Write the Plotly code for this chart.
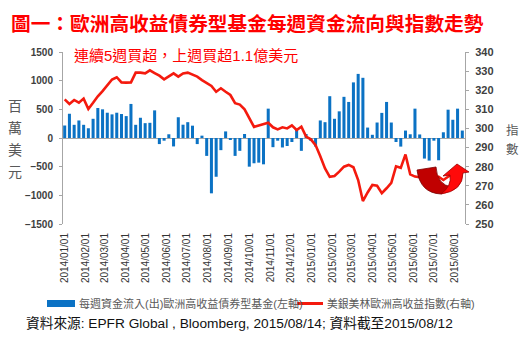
import plotly.graph_objects as go
import pandas as pd

# ---------------- data ----------------
dates = pd.date_range("2014-01-01", "2015-08-12", freq="7D")

flows = [218, 423, 230, 306, 230, 170, 335, 523, 500, 441,
         412, 441, 418, 382, 594, 230, 353, 259, 265, 482,
         -106, -47, 65, -147, 362, 232, 276, 215, -106, 41,
         -312, -965, -676, -212, 115, -30, -312, -224, 70, -500,
         -441, -430, -459, 512, -160, -47, -165, -140, -70, 145,
         -224, 70, -50, -150, 306, 276, 729, 335, 465, 718,
         629, 970, 1118, 1050, 182, 56, 270, 438, 629, 270,
         -70, -150, 130, 65, 512, 62, -359, -394, -47, -388,
         100, 494, 318, 512, 130]

index_vals = [315.2, 312.8, 314.9, 313.5, 315.6, 310.2, 313.4, 316.8, 319.5, 322.4,
              325.6, 326.8, 324.1, 324.0, 324.1, 329.2, 329.2, 328.8, 330.4, 329.0,
              327.6, 325.7, 327.1, 328.8, 327.1, 328.8, 329.2, 328.0, 327.1, 325.3,
              323.6, 322.2, 319.2, 321.0, 319.2, 317.5, 313.2, 312.5, 310.0, 305.0,
              300.8, 301.5, 302.3, 303.0, 300.6, 299.5, 300.6, 300.0, 301.6, 299.2,
              300.9, 295.7, 294.3, 291.3, 285.5, 279.1, 274.7, 275.1, 277.4, 280.0,
              280.9, 279.7, 273.0, 262.0, 266.5, 270.4, 270.0, 266.1, 268.7, 271.5,
              280.2, 279.4, 286.4, 276.0, 274.8, 274.5, 273.5, 272.5, 273.5, 274.7,
              273.0, 275.0, 276.5, 277.5, 278.5]

title_text = "圖一：歐洲高收益債券型基金每週資金流向與指數走勢"
subtitle_text = "連續5週買超，上週買超1.1億美元"
legend_bar = "每週資金流入(出)歐洲高收益債券型基金(左軸)"
legend_line = "美銀美林歐洲高收益指數(右軸)"
source_text = "資料來源: EPFR Global , Bloomberg, 2015/08/14; 資料截至2015/08/12"
left_title = ["百", "萬", "美", "元"]
right_title = ["指", "數"]

# ---------------- geometry helpers ----------------
W, H = 527, 337
L, R, T, B = 63, 465, 52, 224


def px(x):
    return (x - L) / (R - L)


def py(y):
    return (B - y) / (B - T)


def path(cmds):
    out = []
    for c in cmds:
        if isinstance(c, str):
            out.append(c)
        else:
            out.append(f"{px(c[0]):.4f},{py(c[1]):.4f}")
    return " ".join(out)


FONT = "Liberation Sans, Arial, Noto Sans CJK TC, sans-serif"
CJK = "Noto Sans CJK TC, sans-serif"
BLUE = "#0B72C4"
RED = "#F41A0E"
AXC = "#A6A6A6"

fig = go.Figure()
fig.add_trace(go.Bar(x=dates, y=flows, marker_color=BLUE, marker_line_width=0,
                     name=legend_bar, yaxis="y", showlegend=False))
fig.add_trace(go.Scatter(x=dates, y=index_vals, mode="lines",
                         line=dict(color=RED, width=2.6), name=legend_line,
                         yaxis="y2", showlegend=False))

fig.update_layout(
    width=W, height=H,
    margin=dict(l=L, r=W - R, t=T, b=H - B),
    paper_bgcolor="white", plot_bgcolor="white",
    bargap=0.36,
    font=dict(family=FONT, color="#404040"),
    xaxis=dict(type="date", range=["2013-12-29 12:00", "2015-08-16"],
               tickformat="%Y/%m/%d", dtick="M1", tick0="2014-01-01",
               tickangle=-90, tickfont=dict(size=10, color="#333333", family=FONT),
               showgrid=False, showline=False, zeroline=False, ticks="",
               ticklabelstandoff=6),
    yaxis=dict(range=[-1500, 1500], dtick=500, showgrid=False,
               showline=True, linecolor=AXC, linewidth=1,
               ticks="outside", ticklen=3, tickcolor=AXC,
               tickfont=dict(size=10, color="#404040", family=FONT, weight="bold"),
               zeroline=True, zerolinecolor=AXC, zerolinewidth=1,
               ticklabelstandoff=4),
    yaxis2=dict(range=[250, 340], dtick=10, overlaying="y", side="right",
                showgrid=False, showline=True, linecolor=AXC, linewidth=1,
                ticks="outside", ticklen=3, tickcolor=AXC,
                tickfont=dict(size=11, color="#404040", family=FONT, weight="bold"),
                zeroline=False, ticklabelstandoff=4),
)

ann = []
ann.append(dict(x=px(9), y=py(23), xref="paper", yref="paper", text=title_text,
                showarrow=False, xanchor="left", yanchor="middle",
                font=dict(family=CJK, size=19.7, color="#FF0000", weight="bold")))
ann.append(dict(x=px(72), y=py(55), xref="paper", yref="paper", text=subtitle_text,
                showarrow=False, xanchor="left", yanchor="middle",
                font=dict(family=FONT, size=15, color="#FF0000")))
for i, ch in enumerate(left_title):
    ann.append(dict(x=px(15), y=py(105 + i * 22), xref="paper", yref="paper", text=ch,
                    showarrow=False, xanchor="center", yanchor="middle",
                    font=dict(family=CJK, size=14, color="#595959")))
for i, ch in enumerate(right_title):
    ann.append(dict(x=px(512), y=py(129.5 + i * 19), xref="paper", yref="paper", text=ch,
                    showarrow=False, xanchor="center", yanchor="middle",
                    font=dict(family=CJK, size=12.5, color="#595959")))
ann.append(dict(x=px(77), y=py(303.5), xref="paper", yref="paper", text=legend_bar,
                showarrow=False, xanchor="left", yanchor="middle",
                font=dict(family=FONT, size=11, color="#595959")))
ann.append(dict(x=px(325), y=py(303.5), xref="paper", yref="paper", text=legend_line,
                showarrow=False, xanchor="left", yanchor="middle",
                font=dict(family=FONT, size=10.8, color="#595959")))
ann.append(dict(x=px(24), y=py(323), xref="paper", yref="paper", text=source_text,
                showarrow=False, xanchor="left", yanchor="middle",
                font=dict(family=FONT, size=13.7, color="#111111")))

shapes = []
# legend keys
shapes.append(dict(type="rect", xref="paper", yref="paper",
                   x0=px(47), x1=px(75), y0=py(307), y1=py(300),
                   fillcolor=BLUE, line_width=0))
shapes.append(dict(type="line", xref="paper", yref="paper",
                   x0=px(297), x1=px(323), y0=py(303.5), y1=py(303.5),
                   line=dict(color=RED, width=3)))
# decorative curved arrow
dark = path(["M", (417, 170), "L", (436, 167), "Q", (437, 185), (452, 187),
             "L", (441, 194), "Q", (420, 193), (417, 170), "Z"])
bright = path(["M", (450, 175), "L", (443, 176), "L", (457, 164), "L", (469, 172),
               "L", (463, 173), "Q", (463, 191), (441, 194), "Q", (452, 186), (450, 175), "Z"])
shapes.append(dict(type="path", xref="paper", yref="paper", path=dark,
                   fillcolor="#C00000", line=dict(color="#7A0000", width=0.8)))
shapes.append(dict(type="path", xref="paper", yref="paper", path=bright,
                   fillcolor="#FF0A0A", line=dict(color="#9A0000", width=0.8)))

fig.update_layout(annotations=ann, shapes=shapes)
fig.write_html("out.html")
